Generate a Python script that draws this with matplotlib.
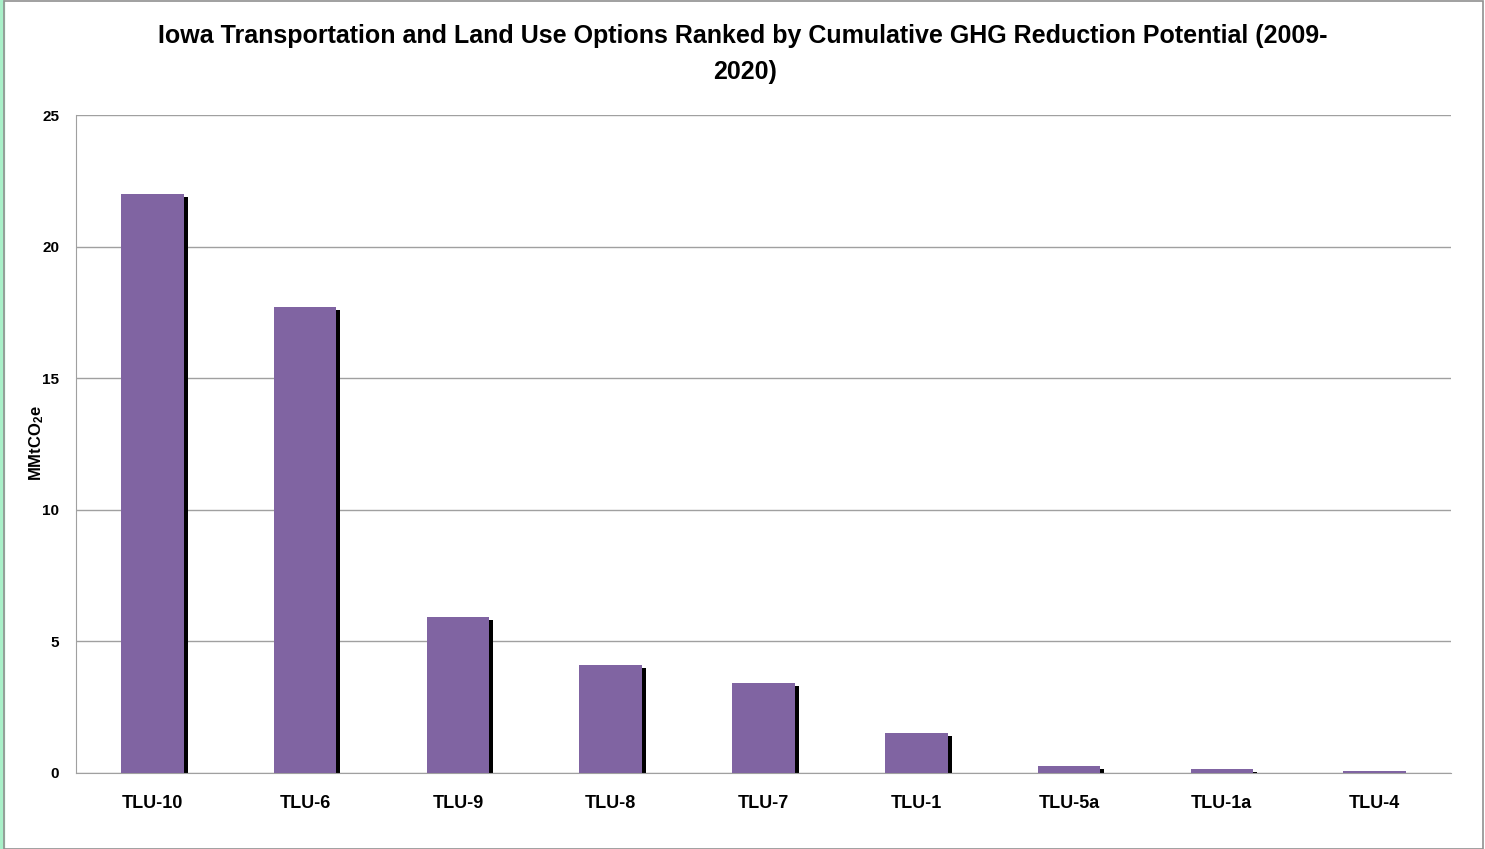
import matplotlib.pyplot as plt
from matplotlib.patches import Rectangle
import numpy as np

options = ['TLU-10', 'TLU-6', 'TLU-9', 'TLU-8', 'TLU-7', 'TLU-1', 'TLU-5a', 'TLU-1a', 'TLU-4']
reduction = [22.0, 17.7, 5.93, 4.1, 3.42, 1.52, 0.27, 0.15, 0.07]

plt.rcParams['font.family'] = ['Liberation Sans', 'DejaVu Sans']
plt.rcParams['mathtext.fontset'] = 'custom'
plt.rcParams['mathtext.bf'] = 'Liberation Sans:bold'

fig = plt.figure(figsize=(14.85, 8.49), dpi=100)
ax = fig.add_axes([76 / 1485, 1 - 773 / 849, 1375 / 1485, 658 / 849])

x = np.arange(len(options))
w = 0.41
# shadow bars, offset right and down a few pixels
dx = 4 / 152.8
dy = 3 / 26.32
shadow = [max(v - dy, 0) for v in reduction]
ax.bar(x + dx, shadow, width=w, color='black', zorder=2)
ax.bar(x, reduction, width=w, color='#8064A2', zorder=3)

ax.set_xlim(-0.5, len(options) - 0.5)
ax.set_ylim(0, 25)
ax.set_yticks([0, 5, 10, 15, 20, 25])
ax.set_xticks(x)
ax.set_xticklabels(options, fontsize=13, fontweight='bold')
for lab in ax.get_yticklabels():
    lab.set_fontsize(11)
    lab.set_fontweight('bold')
ax.tick_params(length=0)
ax.tick_params(axis='y', pad=12)
ax.tick_params(axis='x', pad=16)
ax.yaxis.grid(True, color='#a0a0a0', linewidth=1)
ax.set_axisbelow(True)
for s in ['top', 'right']:
    ax.spines[s].set_visible(False)
ax.spines['left'].set_color('#a0a0a0')
ax.spines['bottom'].set_color('#a0a0a0')

ax.set_ylabel(r'MMtCO$\mathbf{_2}$e', fontsize=12, fontweight='bold')
ax.yaxis.set_label_coords((46 - 76) / 1375, (773 - 443) / 658)

fig.text(0.5, 1 - 36 / 849,
         'Iowa Transportation and Land Use Options Ranked by Cumulative GHG Reduction Potential (2009-',
         ha='center', va='center', fontsize=18, fontweight='bold')
fig.text(0.502, 1 - 72 / 849, '2020)', ha='center', va='center', fontsize=18, fontweight='bold')

# outer frame with green strip on the left
fig.patches.append(Rectangle((0, 0), 4 / 1485, 1, transform=fig.transFigure,
                             color='#a8f0c8', zorder=0))
fig.patches.append(Rectangle((4 / 1485, 0.0), 1 - 6 / 1485, 1 - 1 / 849, transform=fig.transFigure,
                             fill=False, edgecolor='#909090', linewidth=1.2))

fig.savefig('out.png', dpi=100)
